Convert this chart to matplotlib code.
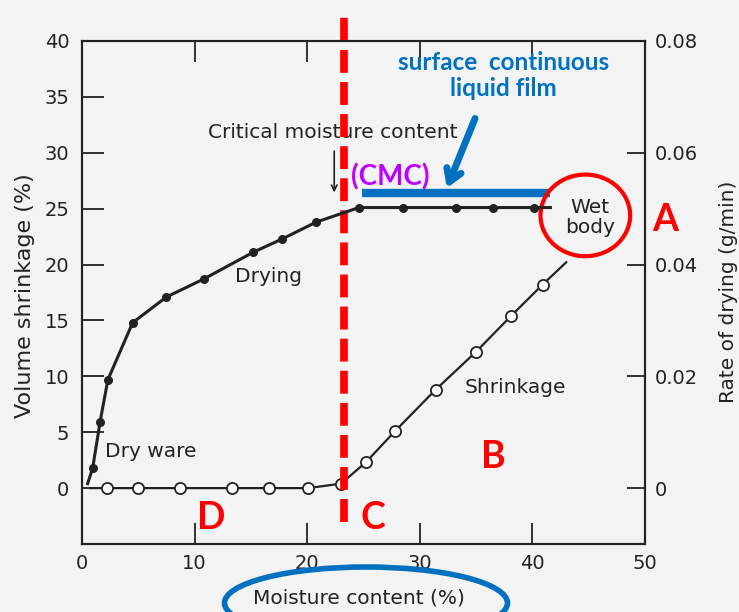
import numpy as np
import matplotlib
matplotlib.use('Agg')
import matplotlib.pyplot as plt
from matplotlib.patches import Ellipse

# drying rate curve (filled dots, right axis, g/min)
drying_x = [0.5, 0.95, 1.6, 2.3, 4.5, 7.5, 10.8, 15.2, 17.8, 20.8, 24.6, 28.5, 33.2, 36.5, 40.1, 41.6]
drying_rate = [0.0008, 0.0036, 0.0118, 0.0194, 0.0296, 0.0342, 0.0374, 0.0422, 0.0446, 0.0476,
               0.0502, 0.0502, 0.0502, 0.0502, 0.0502, 0.0502]

# volume shrinkage curve (open circles, left axis, %)
shrink_x = [0.7, 2.2, 5.0, 8.7, 13.3, 16.6, 20.1, 23.0, 25.2, 27.8, 31.4, 35.0, 38.1, 40.9, 43.0]
shrink_y = [0, 0, 0, 0, 0, 0, 0, 0.4, 2.3, 5.1, 8.8, 12.2, 15.4, 18.2, 20.2]

cmc_x = 23.3
x_ticks = [0, 10, 20, 30, 40, 50]
left_ticks = [0, 5, 10, 15, 20, 25, 30, 35, 40]
right_ticks = [0, 0.02, 0.04, 0.06, 0.08]
right_labels = ['0', '0.02', '0.04', '0.06', '0.08']

ink = '#222222'
red = '#FF0000'
blue = '#0070C0'
purple = '#BF00FF'
bg = '#F3F3F3'

fig = plt.figure(figsize=(7.39, 6.12), dpi=100, facecolor=bg)
ax = fig.add_axes([82/739, 1-544/612, (645-82)/739, (544-41)/612])
ax.set_facecolor(bg)
ax2 = ax.twinx()

ax.set_xlim(0, 50)
ax.set_ylim(-5, 40)
ax2.set_ylim(-0.01, 0.08)

for a in (ax, ax2):
    for s in a.spines.values():
        s.set_linewidth(1.5)
        s.set_color(ink)

ax.set_xticks(x_ticks)
ax.set_yticks(left_ticks)
ax2.set_yticks(right_ticks)
ax2.set_yticklabels(right_labels)
ax.tick_params(axis='x', direction='in', length=15, width=1.3, top=True, labelsize=14,
               pad=7, colors=ink)
ax.tick_params(axis='y', direction='in', length=16, width=1.3, labelsize=14, pad=9, colors=ink)
ax2.tick_params(axis='y', direction='in', length=13, width=1.3, labelsize=14, pad=7, colors=ink)

# curves
ax.plot(shrink_x, shrink_y, color=ink, lw=1.6, marker='o', ms=8, mfc='white', mec=ink,
        mew=1.3, markevery=list(range(1, 14)), zorder=3)
ax2.plot(drying_x, drying_rate, color=ink, lw=2.2, marker='o', ms=5.5, mfc=ink, mec=ink,
         markevery=list(range(1, 15)), zorder=3)

# scanned figure texts
ax.text(22.3, 31.8, 'Critical moisture content', ha='center', va='center', fontsize=14.5, color=ink)
ax.annotate('', xy=(22.4, 26.2), xytext=(22.4, 30.4),
            arrowprops=dict(arrowstyle='->', color=ink, lw=1.2))
ax.text(16.6, 18.9, 'Drying', ha='center', va='center', fontsize=14.5, color=ink)
ax.text(6.1, 3.3, 'Dry ware', ha='center', va='center', fontsize=14.5, color=ink)
ax.text(38.5, 9.0, 'Shrinkage', ha='center', va='center', fontsize=14.5, color=ink)
ax.text(45.1, 24.2, 'Wet\nbody', ha='center', va='center', fontsize=14.5, color=ink, linespacing=1.1)

fig.text(25/739, 1-296/612, 'Volume shrinkage (%)', rotation=90, ha='center', va='center',
         fontsize=16, color=ink)
fig.text(729/739, 1-292/612, 'Rate of drying (g/min)', rotation=90, ha='center', va='center',
         fontsize=14.5, color=ink)
fig.text(359/739, 1-598/612, 'Moisture content (%)', ha='center', va='center',
         fontsize=14.5, color=ink)

# overlays
ax.plot([cmc_x, cmc_x], [-3.0, 42.7], color=red, lw=5.5, ls=(0, (3, 1.2)), clip_on=False, zorder=4)
ax.plot([24.9, 41.6], [26.4, 26.4], color=blue, lw=6, solid_capstyle='butt', zorder=4)
ax.annotate('', xy=(32.3, 26.6), xytext=(35.0, 33.3),
            arrowprops=dict(arrowstyle='->,head_length=0.9,head_width=0.55', color=blue, lw=5),
            zorder=5)
ax.text(37.4, 36.9, 'surface  continuous\nliquid film', ha='center', va='center', fontsize=17.5,
        color=blue, fontweight='bold', family='Lato', linespacing=1.15)
ax.text(27.4, 27.8, '(CMC)', ha='center', va='center', fontsize=20, color=purple,
        fontweight='bold', family='Lato')
ax.add_patch(Ellipse((44.7, 24.4), 7.96, 7.3, fill=False, ec=red, lw=3, clip_on=False, zorder=5))

for letter, lx, ly in [('A', 51.8, 24.0), ('B', 36.5, 2.8), ('C', 25.8, -2.7), ('D', 11.5, -2.7)]:
    ax.text(lx, ly, letter, ha='center', va='center', fontsize=27, color=red,
            fontweight='bold', family='Lato', clip_on=False)

ell = Ellipse((366/739, 1-603/612), 283/739, 72/612, transform=fig.transFigure,
              fill=False, ec=blue, lw=4)
fig.patches.append(ell)

fig.savefig('out.png', dpi=100, facecolor=bg)
